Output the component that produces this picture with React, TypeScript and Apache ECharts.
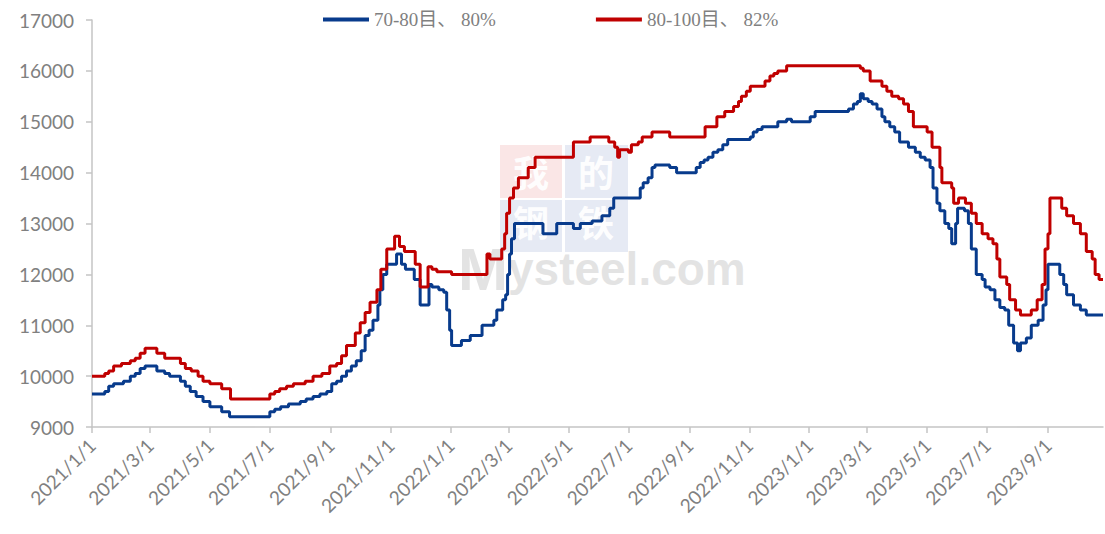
import React, { useEffect, useRef } from "react";
import * as echarts from "echarts";

const seriesNames = ["70-80目、 80%", "80-100目、 82%"];
const firstDay = "2021/1/1";
const lastDay = "2023/10/27";

// change points: [date, price from that date on]
const blueData: [string, number][] = [
  ["2021/1/1", 9650], ["2021/1/14", 9700], ["2021/1/18", 9800], ["2021/1/23", 9850], ["2021/2/2", 9900],
  ["2021/2/9", 10000], ["2021/2/14", 10050], ["2021/2/19", 10150], ["2021/2/24", 10200], ["2021/3/8", 10100],
  ["2021/3/16", 10050], ["2021/3/21", 10000], ["2021/4/1", 9900], ["2021/4/6", 9800], ["2021/4/11", 9700],
  ["2021/4/17", 9600], ["2021/4/24", 9500], ["2021/5/1", 9400], ["2021/5/13", 9300], ["2021/5/21", 9200],
  ["2021/7/1", 9300], ["2021/7/6", 9350], ["2021/7/12", 9400], ["2021/7/20", 9450], ["2021/8/1", 9500],
  ["2021/8/7", 9550], ["2021/8/14", 9600], ["2021/8/21", 9650], ["2021/8/28", 9700], ["2021/9/2", 9850],
  ["2021/9/7", 9900], ["2021/9/12", 10000], ["2021/9/17", 10100], ["2021/9/22", 10200], ["2021/9/27", 10300],
  ["2021/10/2", 10500], ["2021/10/6", 10800], ["2021/10/10", 10900], ["2021/10/14", 11100], ["2021/10/19", 11400],
  ["2021/10/21", 11700], ["2021/10/24", 12000], ["2021/10/28", 12200], ["2021/11/7", 12400], ["2021/11/12", 12200],
  ["2021/11/16", 12100], ["2021/11/25", 11900], ["2021/12/1", 11400], ["2021/12/10", 11800], ["2021/12/13", 11750],
  ["2021/12/20", 11700], ["2021/12/25", 11650], ["2021/12/28", 11300], ["2021/12/31", 10900], ["2022/1/2", 10600],
  ["2022/1/12", 10700], ["2022/1/21", 10800], ["2022/2/2", 11000], ["2022/2/14", 11100], ["2022/2/17", 11300],
  ["2022/2/23", 11500], ["2022/2/26", 11600], ["2022/2/28", 12000], ["2022/3/2", 12400], ["2022/3/4", 12700],
  ["2022/3/7", 13000], ["2022/4/5", 12800], ["2022/4/19", 13000], ["2022/5/6", 12900], ["2022/5/13", 13000],
  ["2022/5/25", 13050], ["2022/6/4", 13150], ["2022/6/12", 13300], ["2022/6/16", 13500], ["2022/7/13", 13700],
  ["2022/7/16", 13800], ["2022/7/21", 13900], ["2022/7/25", 14100], ["2022/7/28", 14150], ["2022/8/12", 14100],
  ["2022/8/19", 14000], ["2022/9/8", 14100], ["2022/9/12", 14200], ["2022/9/16", 14250], ["2022/9/20", 14300],
  ["2022/9/25", 14400], ["2022/9/30", 14450], ["2022/10/5", 14550], ["2022/10/10", 14650], ["2022/11/2", 14700],
  ["2022/11/5", 14800], ["2022/11/9", 14850], ["2022/11/14", 14900], ["2022/11/30", 15000], ["2022/12/9", 15050],
  ["2022/12/14", 15000], ["2023/1/2", 15100], ["2023/1/7", 15200], ["2023/2/10", 15250], ["2023/2/15", 15350],
  ["2023/2/19", 15400], ["2023/2/22", 15550], ["2023/2/25", 15450], ["2023/3/2", 15400], ["2023/3/6", 15350],
  ["2023/3/11", 15250], ["2023/3/16", 15100], ["2023/3/19", 15000], ["2023/3/24", 14900], ["2023/3/29", 14800],
  ["2023/4/3", 14600], ["2023/4/12", 14500], ["2023/4/19", 14400], ["2023/4/24", 14300], ["2023/4/29", 14250],
  ["2023/5/4", 14100], ["2023/5/7", 13700], ["2023/5/11", 13400], ["2023/5/14", 13250], ["2023/5/19", 13000],
  ["2023/5/23", 12900], ["2023/5/26", 12600], ["2023/5/30", 13000], ["2023/6/1", 13300], ["2023/6/8", 13250],
  ["2023/6/12", 13000], ["2023/6/15", 12500], ["2023/6/20", 12000], ["2023/6/26", 11900], ["2023/6/29", 11750],
  ["2023/7/4", 11700], ["2023/7/9", 11500], ["2023/7/14", 11350], ["2023/7/19", 11300], ["2023/7/23", 11000],
  ["2023/7/28", 10650], ["2023/8/1", 10500], ["2023/8/4", 10650], ["2023/8/10", 10750], ["2023/8/15", 11000],
  ["2023/8/22", 11100], ["2023/8/27", 11400], ["2023/8/30", 11700], ["2023/9/1", 12200], ["2023/9/13", 12000],
  ["2023/9/17", 11800], ["2023/9/20", 11600], ["2023/9/27", 11400], ["2023/10/4", 11300], ["2023/10/10", 11200],
  ["2023/10/27", 11200],
];

const redData: [string, number][] = [
  ["2021/1/1", 10000], ["2021/1/14", 10050], ["2021/1/18", 10100], ["2021/1/23", 10200], ["2021/1/31", 10250],
  ["2021/2/9", 10300], ["2021/2/14", 10350], ["2021/2/19", 10450], ["2021/2/24", 10550], ["2021/3/8", 10450],
  ["2021/3/16", 10350], ["2021/4/1", 10250], ["2021/4/6", 10150], ["2021/4/12", 10100], ["2021/4/19", 10000],
  ["2021/4/24", 9900], ["2021/5/1", 9850], ["2021/5/13", 9750], ["2021/5/22", 9550], ["2021/7/1", 9650],
  ["2021/7/6", 9700], ["2021/7/11", 9750], ["2021/7/18", 9800], ["2021/7/25", 9850], ["2021/8/6", 9900],
  ["2021/8/14", 10000], ["2021/8/23", 10050], ["2021/8/31", 10200], ["2021/9/7", 10250], ["2021/9/12", 10400],
  ["2021/9/17", 10600], ["2021/9/26", 10850], ["2021/10/1", 11050], ["2021/10/6", 11250], ["2021/10/11", 11450],
  ["2021/10/18", 11700], ["2021/10/22", 12100], ["2021/10/28", 12500], ["2021/11/5", 12750], ["2021/11/10", 12550],
  ["2021/11/15", 12450], ["2021/11/26", 12200], ["2021/12/1", 11750], ["2021/12/9", 12150], ["2021/12/13", 12100],
  ["2021/12/18", 12050], ["2022/1/2", 12000], ["2022/2/7", 12400], ["2022/2/10", 12300], ["2022/2/22", 12500],
  ["2022/2/25", 12800], ["2022/2/27", 13200], ["2022/3/2", 13500], ["2022/3/6", 13700], ["2022/3/11", 13900],
  ["2022/3/21", 14100], ["2022/3/28", 14300], ["2022/5/6", 14600], ["2022/5/23", 14700], ["2022/6/11", 14600],
  ["2022/6/17", 14500], ["2022/6/20", 14300], ["2022/6/22", 14450], ["2022/7/1", 14400], ["2022/7/4", 14550],
  ["2022/7/11", 14600], ["2022/7/15", 14700], ["2022/7/25", 14800], ["2022/8/12", 14700], ["2022/9/17", 14900],
  ["2022/9/29", 15100], ["2022/10/7", 15200], ["2022/10/16", 15300], ["2022/10/21", 15400], ["2022/10/24", 15500],
  ["2022/10/29", 15600], ["2022/11/2", 15700], ["2022/11/17", 15800], ["2022/11/22", 15900], ["2022/11/26", 15950],
  ["2022/11/30", 16000], ["2022/12/9", 16100], ["2023/2/22", 16050], ["2023/2/25", 16000], ["2023/3/4", 15800],
  ["2023/3/16", 15700], ["2023/3/21", 15600], ["2023/3/26", 15500], ["2023/4/2", 15450], ["2023/4/7", 15350],
  ["2023/4/12", 15200], ["2023/4/17", 14900], ["2023/5/1", 14800], ["2023/5/6", 14500], ["2023/5/14", 14100],
  ["2023/5/16", 13800], ["2023/5/26", 13700], ["2023/5/28", 13400], ["2023/6/2", 13500], ["2023/6/9", 13400],
  ["2023/6/15", 13200], ["2023/6/20", 13000], ["2023/6/26", 12800], ["2023/7/2", 12700], ["2023/7/7", 12600],
  ["2023/7/11", 12300], ["2023/7/14", 11950], ["2023/7/21", 11800], ["2023/7/24", 11500], ["2023/7/30", 11300],
  ["2023/8/4", 11200], ["2023/8/15", 11300], ["2023/8/21", 11500], ["2023/8/26", 11800], ["2023/8/29", 12500],
  ["2023/9/1", 12800], ["2023/9/3", 13500], ["2023/9/15", 13300], ["2023/9/20", 13150], ["2023/9/27", 13000],
  ["2023/10/4", 12800], ["2023/10/10", 12450], ["2023/10/16", 12300], ["2023/10/19", 12000], ["2023/10/23", 11900],
  ["2023/10/27", 11900],
];

const yMin = 9000;
const yMax = 17000;
const yStep = 1000;

function parseDay(s: string): number {
  const [y, m, d] = s.split("/").map(Number);
  return Date.UTC(y, m - 1, d);
}

function buildDays(from: string, to: string): string[] {
  const out: string[] = [];
  const end = parseDay(to);
  for (let t = parseDay(from); t <= end; t += 86400000) {
    const dt = new Date(t);
    out.push(`${dt.getUTCFullYear()}/${dt.getUTCMonth() + 1}/${dt.getUTCDate()}`);
  }
  return out;
}

const isMarker = (_i: number, v: string) => {
  const p = String(v).split("/");
  return p[2] === "1" && Number(p[1]) % 2 === 1;
};

export default function App() {
  const ref = useRef<HTMLDivElement>(null);
  useEffect(() => {
    if (!ref.current) return;
    const chart = echarts.init(ref.current, undefined, { renderer: "svg" });
    const days = buildDays(firstDay, lastDay);
    const axisColor = "#c4c4c4";
    const labelColor = "#808080";
    const labelFont = "Lato, 'Open Sans', sans-serif";
    const blue = "#083b8c";
    const red = "#c00000";
    const cjk = "'Noto Sans CJK SC', sans-serif";
    const charStyle = (x: number, y: number, t: string) => ({
      type: "text",
      z: 0,
      style: {
        x, y, text: t,
        fill: "rgba(255,255,255,0.95)",
        fontSize: 36,
        lineHeight: 24,
        fontFamily: cjk,
        fontWeight: "bold",
        textAlign: "center",
        textVerticalAlign: "middle",
      },
    });
    const wm = "rgba(200,200,200,0.5)";
    chart.setOption({
      animation: false,
      backgroundColor: "#ffffff",
      grid: { left: 92, right: 2, top: 20, bottom: 107 },
      legend: {
        data: seriesNames,
        left: 318,
        top: 5,
        icon: "rect",
        itemWidth: 46,
        itemHeight: 4,
        itemGap: 100,
        textStyle: {
          color: labelColor,
          fontSize: 19,
          fontFamily: "'Liberation Serif', 'Noto Sans CJK SC', serif",
        },
      },
      graphic: [
        { type: "rect", z: 0, shape: { x: 500, y: 145, width: 62, height: 53 }, style: { fill: "rgba(232,140,140,0.22)" } },
        { type: "rect", z: 0, shape: { x: 565, y: 145, width: 63, height: 53 }, style: { fill: "rgba(140,160,205,0.22)" } },
        { type: "rect", z: 0, shape: { x: 500, y: 200, width: 62, height: 52 }, style: { fill: "rgba(140,160,205,0.22)" } },
        { type: "rect", z: 0, shape: { x: 565, y: 200, width: 63, height: 52 }, style: { fill: "rgba(140,160,205,0.22)" } },
        charStyle(531, 171, "我"),
        charStyle(596, 171, "的"),
        charStyle(531, 221, "钢"),
        charStyle(596, 221, "铁"),
        {
          type: "text",
          z: 0,
          style: {
            x: 458,
            y: 291,
            text: "{m|M}{r|ysteel.com}",
            textAlign: "left",
            textVerticalAlign: "bottom",
            rich: {
              m: { fontSize: 60, lineHeight: 44, fontWeight: "bold", fontFamily: "'Liberation Sans', sans-serif", fill: wm, color: wm },
              r: { fontSize: 46, lineHeight: 44, fontWeight: "bold", fontFamily: "'Liberation Sans', sans-serif", fill: wm, color: wm },
            },
          },
        },
      ],
      xAxis: {
        type: "category",
        data: days,
        boundaryGap: false,
        axisLine: { show: true, lineStyle: { color: axisColor, width: 1.5 } },
        axisTick: { show: true, interval: isMarker, length: 6, lineStyle: { color: axisColor, width: 1.5 } },
        axisLabel: {
          interval: isMarker,
          rotate: 45,
          margin: 15,
          color: labelColor,
          fontSize: 19,
          fontFamily: labelFont,
        },
        splitLine: { show: false },
      },
      yAxis: {
        type: "value",
        min: yMin,
        max: yMax,
        interval: yStep,
        axisLine: { show: true, lineStyle: { color: axisColor, width: 1.5 } },
        axisTick: { show: true, length: 6, lineStyle: { color: axisColor, width: 1.5 } },
        axisLabel: {
          margin: 18,
          color: labelColor,
          fontSize: 19,
          fontFamily: labelFont,
          formatter: (v: number) => String(v),
        },
        splitLine: { show: false },
      },
      series: [
        {
          name: seriesNames[0],
          type: "line",
          step: "end",
          showSymbol: false,
          data: blueData,
          color: blue,
          lineStyle: { color: blue, width: 3 },
          z: 3,
        },
        {
          name: seriesNames[1],
          type: "line",
          step: "end",
          showSymbol: false,
          data: redData,
          color: red,
          lineStyle: { color: red, width: 3 },
          z: 3,
        },
      ],
    });
    return () => chart.dispose();
  }, []);
  return (
    <div
      ref={ref}
      style={{ position: "fixed", left: 0, top: 0, width: 1105, height: 534, background: "#fff" }}
    />
  );
}
